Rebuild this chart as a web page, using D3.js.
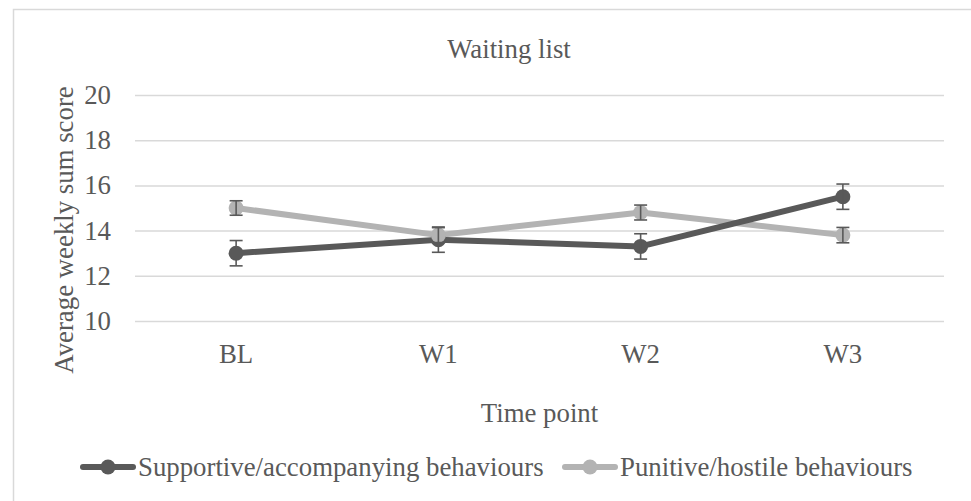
<!DOCTYPE html>
<html>
<head>
<meta charset="utf-8">
<script src="https://cdn.jsdelivr.net/npm/d3@7"></script>
<style>
  html, body { margin: 0; padding: 0; background: #fff; }
  text { font-family: "Palatino Linotype", "Book Antiqua", Palatino, "Liberation Serif", serif; fill: #595959; }
</style>
</head>
<body>
<svg id="chart" width="971" height="501"></svg>
<script>
// data
const timePoints = ['BL', 'W1', 'W2', 'W3'];
const supportive = [13.0, 13.6, 13.3, 15.5];
const supportiveErr = [0.56, 0.56, 0.56, 0.56];
const punitive = [15.0, 13.8, 14.8, 13.8];
const punitiveErr = [0.32, 0.33, 0.33, 0.34];
const yTicks = [10, 12, 14, 16, 18, 20];
const seriesNames = ['Supportive/accompanying behaviours', 'Punitive/hostile behaviours'];
const seriesColors = ['#595959', '#b3b3b3'];

const fontSize = '26.8px';

const svg = d3.select('#chart'),
  margin = {top: 95, left: 135, right: 27, bottom: 180},
  width = +svg.attr('width') - margin.left - margin.right,
  height = +svg.attr('height') - margin.top - margin.bottom;

// outer chart frame
svg.append('rect')
  .attr('x', 13.5).attr('y', 9.5)
  .attr('width', 990).attr('height', 520)
  .attr('fill', 'none')
  .attr('stroke', '#d9d9d9')
  .attr('stroke-width', 1.5);

const x = d3.scaleBand()
  .domain(timePoints)
  .range([0, width]);

const y = d3.scaleLinear()
  .domain([10, 20])
  .range([height, 0]);

const g = svg.append('g')
  .attr('transform', 'translate(' + margin.left + ',' + margin.top + ')');

// gridlines
g.append('g')
  .call(d3.axisLeft(y).tickValues(yTicks).tickSize(-width).tickFormat(''))
  .call(ax => ax.select('.domain').remove())
  .call(ax => ax.selectAll('line').attr('stroke', '#d9d9d9').attr('stroke-width', 1.5));

// y tick labels
g.append('g')
  .call(d3.axisLeft(y).tickValues(yTicks).tickSize(0).tickPadding(24))
  .call(ax => ax.select('.domain').remove())
  .call(ax => ax.selectAll('text').style('font-size', fontSize).attr('fill', '#595959'));

// x tick labels
g.append('g')
  .attr('transform', 'translate(0,' + height + ')')
  .call(d3.axisBottom(x).tickSize(0).tickPadding(23))
  .call(ax => ax.select('.domain').remove())
  .call(ax => ax.selectAll('text').style('font-size', fontSize).attr('fill', '#595959'));

// titles
svg.append('text')
  .attr('x', 509).attr('y', 58)
  .attr('text-anchor', 'middle')
  .style('font-size', fontSize)
  .text('Waiting list');

svg.append('text')
  .attr('x', margin.left + width / 2).attr('y', 422)
  .attr('text-anchor', 'middle')
  .style('font-size', fontSize)
  .text('Time point');

svg.append('text')
  .attr('transform', 'translate(73,230) rotate(-90)')
  .attr('text-anchor', 'middle')
  .style('font-size', fontSize)
  .text('Average weekly sum score');

const cx = d => x(d) + x.bandwidth() / 2;
const series = [
  {name: seriesNames[0], values: supportive, err: supportiveErr, color: seriesColors[0]},
  {name: seriesNames[1], values: punitive, err: punitiveErr, color: seriesColors[1]}
];

const line = d3.line()
  .x((v, i) => cx(timePoints[i]))
  .y(v => y(v));

// lines: punitive underneath, supportive on top
[series[1], series[0]].forEach(s => {
  g.append('path')
    .datum(s.values)
    .attr('fill', 'none')
    .attr('stroke', s.color)
    .attr('stroke-width', 6)
    .attr('stroke-linejoin', 'round')
    .attr('d', line);
});

// markers and error bars
series.forEach(s => {
  const m = g.append('g');
  m.selectAll('circle')
    .data(s.values)
    .enter().append('circle')
    .attr('cx', (v, i) => cx(timePoints[i]))
    .attr('cy', v => y(v))
    .attr('r', 7.5)
    .attr('fill', s.color);

  const eb = m.selectAll('g.err')
    .data(s.values.map((v, i) => ({t: timePoints[i], v: v, e: s.err[i]})))
    .enter().append('g')
    .attr('class', 'err')
    .attr('stroke', '#595959')
    .attr('stroke-width', 1.6);
  eb.append('line')
    .attr('x1', d => cx(d.t)).attr('x2', d => cx(d.t))
    .attr('y1', d => y(d.v + d.e)).attr('y2', d => y(d.v - d.e));
  eb.append('line')
    .attr('x1', d => cx(d.t) - 6.5).attr('x2', d => cx(d.t) + 6.5)
    .attr('y1', d => y(d.v + d.e)).attr('y2', d => y(d.v + d.e));
  eb.append('line')
    .attr('x1', d => cx(d.t) - 6.5).attr('x2', d => cx(d.t) + 6.5)
    .attr('y1', d => y(d.v - d.e)).attr('y2', d => y(d.v - d.e));
});

// legend
const legend = svg.append('g').attr('transform', 'translate(0,467)');
const legendX = [80, 562];
series.forEach((s, i) => {
  const lg = legend.append('g').attr('transform', 'translate(' + legendX[i] + ',0)');
  lg.append('line')
    .attr('x1', 3).attr('x2', 53)
    .attr('stroke', s.color).attr('stroke-width', 6).attr('stroke-linecap', 'round');
  lg.append('circle').attr('cx', 28).attr('r', 7.5).attr('fill', s.color);
  lg.append('text')
    .attr('x', 58).attr('y', 9)
    .style('font-size', fontSize)
    .text(s.name);
});
</script>
</body>
</html>
